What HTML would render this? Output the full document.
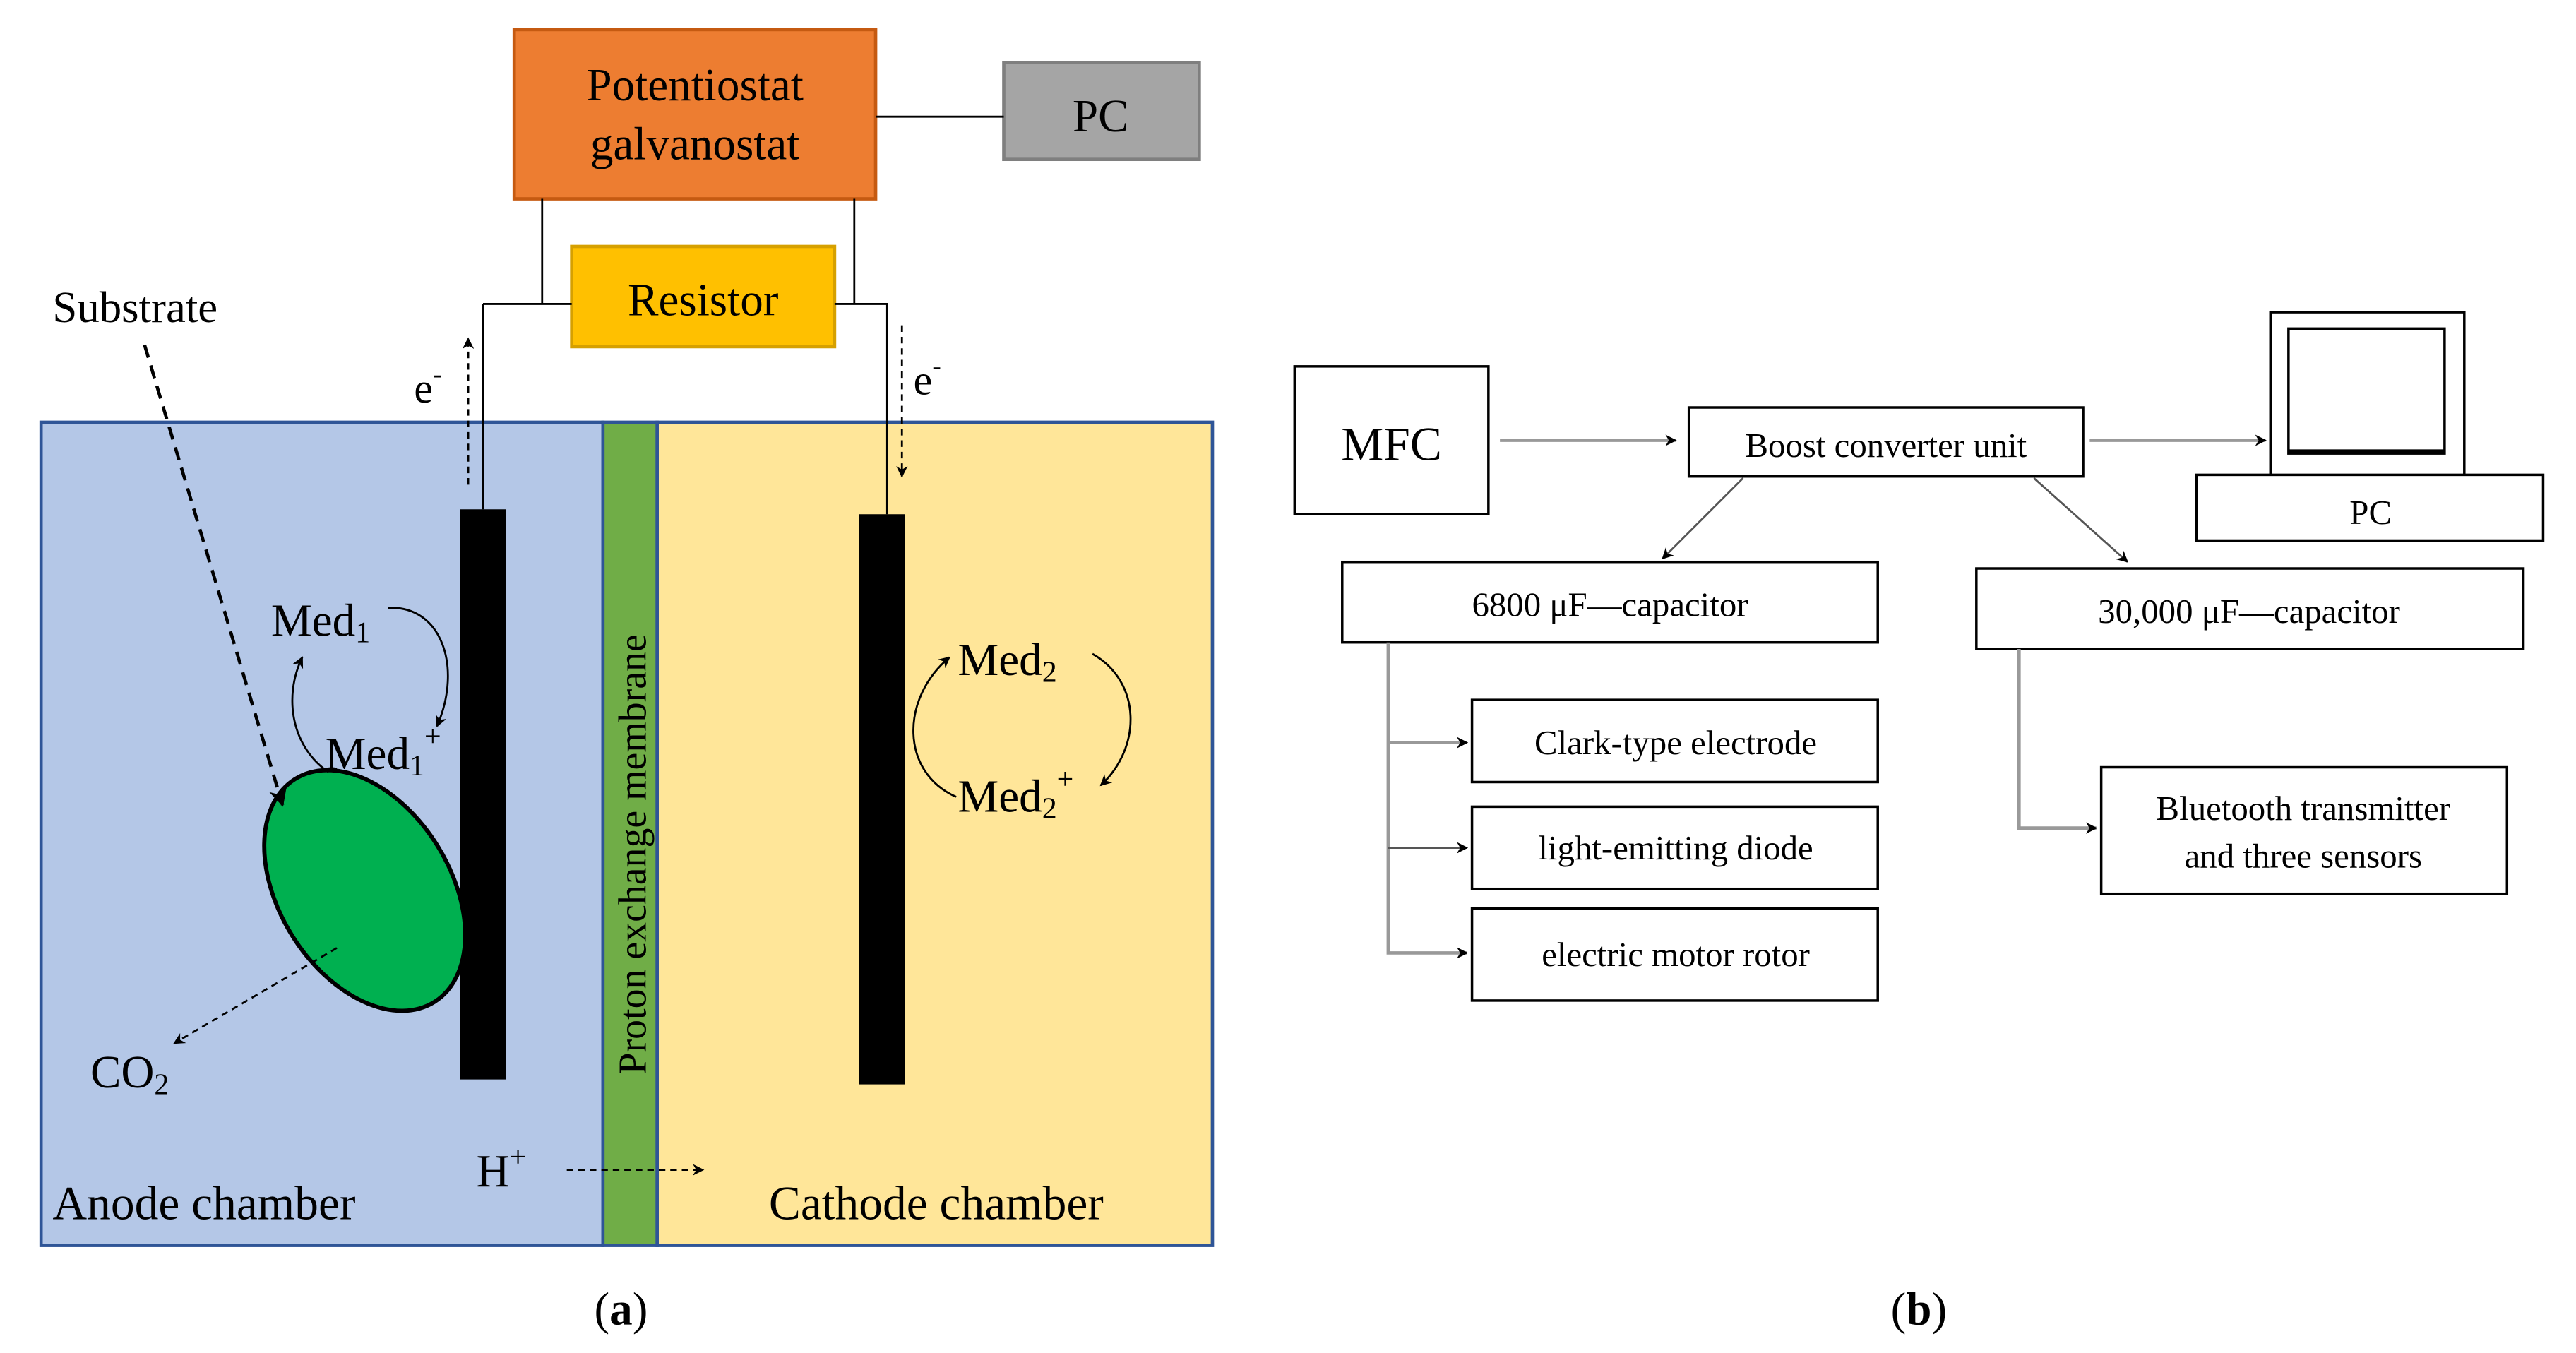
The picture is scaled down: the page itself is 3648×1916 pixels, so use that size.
<!DOCTYPE html>
<html><head><meta charset="utf-8"><style>html,body{margin:0;padding:0;background:#fff}svg{display:block}</style></head><body>
<svg width="3648" height="1916" viewBox="0 0 1568 823.5" preserveAspectRatio="none" xmlns="http://www.w3.org/2000/svg" font-family="'Liberation Serif', serif">
<defs>
<marker id="ah" viewBox="0 0 10 10" refX="9" refY="5" markerWidth="7" markerHeight="7" orient="auto-start-reverse" markerUnits="userSpaceOnUse"><path d="M0,0 L10,5 L0,10 L3,5 z" fill="#000"/></marker>
<marker id="ahb" viewBox="0 0 10 10" refX="9" refY="5" markerWidth="11" markerHeight="11" orient="auto" markerUnits="userSpaceOnUse"><path d="M0,0 L10,5 L0,10 L3,5 z" fill="#000"/></marker>
</defs>
<rect width="1568" height="823.5" fill="#fff"/>
<rect x="25" y="257" width="342" height="501" fill="#B4C7E7" stroke="#2F5597" stroke-width="2"/>
<rect x="400" y="257" width="338" height="501" fill="#FFE699" stroke="#2F5597" stroke-width="2"/>
<rect x="367" y="257" width="33" height="501" fill="#70AD47" stroke="#2F5597" stroke-width="2"/>
<text transform="translate(393,520) rotate(-90)" font-size="24" text-anchor="middle" fill="#000">Proton exchange membrane</text>
<rect x="313" y="18" width="220" height="103" fill="#ED7D31" stroke="#C55A11" stroke-width="2"/>
<text x="423" y="61" font-size="28" text-anchor="middle">Potentiostat</text>
<text x="423" y="97" font-size="28" text-anchor="middle">galvanostat</text>
<rect x="611" y="38" width="119" height="59" fill="#A5A5A5" stroke="#7F7F7F" stroke-width="2"/>
<text x="670" y="80" font-size="28" text-anchor="middle">PC</text>
<line x1="533" y1="71" x2="611" y2="71" stroke="#000" stroke-width="1.2"/>
<rect x="348" y="150" width="160" height="61" fill="#FFC000" stroke="#D6A000" stroke-width="2"/>
<text x="428" y="192" font-size="28" text-anchor="middle">Resistor</text>
<path d="M330,121 V185 M294,185 H348 M294,185 V310 M520,121 V185 M508,185 H540 V313" fill="none" stroke="#000" stroke-width="1.2"/>
<line x1="285" y1="295" x2="285" y2="206" stroke="#000" stroke-width="1.2" stroke-dasharray="4,3" marker-end="url(#ah)"/>
<text x="252" y="245" font-size="26">e<tspan font-size="16" dy="-12">-</tspan></text>
<line x1="549" y1="198" x2="549" y2="290" stroke="#000" stroke-width="1.2" stroke-dasharray="4,3" marker-end="url(#ah)"/>
<text x="556" y="240" font-size="26">e<tspan font-size="16" dy="-12">-</tspan></text>
<rect x="280" y="310" width="28" height="347" fill="#000"/>
<rect x="523" y="313" width="28" height="347" fill="#000"/>
<ellipse cx="222" cy="542" rx="52" ry="80" transform="rotate(-32 222 542)" fill="#00B050" stroke="#000" stroke-width="2.5"/>
<text x="32" y="196" font-size="27">Substrate</text>
<line x1="88" y1="210" x2="172" y2="490" stroke="#000" stroke-width="2" stroke-dasharray="8,5" marker-end="url(#ahb)"/>
<line x1="205" y1="577" x2="106" y2="635" stroke="#000" stroke-width="1.2" stroke-dasharray="4,3" marker-end="url(#ah)"/>
<text x="55" y="662" font-size="28">CO<tspan font-size="18" dy="4">2</tspan></text>
<text x="165" y="387" font-size="28">Med<tspan font-size="18" dy="4">1</tspan></text>
<text x="198" y="468" font-size="28">Med<tspan font-size="18" dy="4">1</tspan><tspan font-size="18" dy="-18">+</tspan></text>
<path d="M236,370 C268,368 282,405 266,442" fill="none" stroke="#000" stroke-width="1.2" marker-end="url(#ah)"/>
<path d="M200,470 C178,455 172,425 184,400" fill="none" stroke="#000" stroke-width="1.2" marker-end="url(#ah)"/>
<text x="583" y="411" font-size="28">Med<tspan font-size="18" dy="4">2</tspan></text>
<text x="583" y="494" font-size="28">Med<tspan font-size="18" dy="4">2</tspan><tspan font-size="18" dy="-18">+</tspan></text>
<path d="M665,398 C695,415 695,455 670,478" fill="none" stroke="#000" stroke-width="1.2" marker-end="url(#ah)"/>
<path d="M582,485 C548,470 548,425 578,400" fill="none" stroke="#000" stroke-width="1.2" marker-end="url(#ah)"/>
<text x="290" y="722" font-size="28">H<tspan font-size="18" dy="-12">+</tspan></text>
<line x1="345" y1="712" x2="428" y2="712" stroke="#000" stroke-width="1.2" stroke-dasharray="4,3" marker-end="url(#ah)"/>
<text x="32" y="742" font-size="29">Anode chamber</text>
<text x="468" y="742" font-size="29">Cathode chamber</text>
<text x="378" y="806" font-size="28" text-anchor="middle">(<tspan font-weight="bold">a</tspan>)</text>
<g stroke="#000" stroke-width="1.5" fill="#fff">
<rect x="788" y="223" width="118" height="90"/>
<rect x="1028" y="248" width="240" height="42"/>
<rect x="1382" y="190" width="118" height="100"/>
<rect x="1337" y="289" width="211" height="40"/>
<rect x="817" y="342" width="326" height="49"/>
<rect x="1203" y="346" width="333" height="49"/>
<rect x="896" y="426" width="247" height="50"/>
<rect x="896" y="491" width="247" height="50"/>
<rect x="896" y="553" width="247" height="56"/>
<rect x="1279" y="467" width="247" height="77"/>
</g>
<rect x="1393" y="200" width="95" height="76" fill="#fff" stroke="#000" stroke-width="1.5"/>
<line x1="1393" y1="275" x2="1488" y2="275" stroke="#000" stroke-width="3"/>
<g font-size="21" text-anchor="middle">
<text x="847" y="280" font-size="29">MFC</text>
<text x="1148" y="278">Boost converter unit</text>
<text x="1443" y="319">PC</text>
<text x="980" y="375">6800 μF—capacitor</text>
<text x="1369" y="379">30,000 μF—capacitor</text>
<text x="1020" y="459">Clark-type electrode</text>
<text x="1020" y="523">light-emitting diode</text>
<text x="1020" y="588">electric motor rotor</text>
<text x="1402" y="499">Bluetooth transmitter</text>
<text x="1402" y="528">and three sensors</text>
</g>
<g stroke="#999" stroke-width="2" fill="none">
<line x1="913" y1="268" x2="1020" y2="268" marker-end="url(#ah)"/>
<line x1="1272" y1="268" x2="1379" y2="268" marker-end="url(#ah)"/>
<path d="M845,391 V580 H893" marker-end="url(#ah)"/>
<line x1="845" y1="452" x2="893" y2="452" marker-end="url(#ah)"/>
<line x1="845" y1="516" x2="893" y2="516" stroke="#555" stroke-width="1.2" marker-end="url(#ah)"/>
<path d="M1229,395 V504 H1276" marker-end="url(#ah)"/>
</g>
<line x1="1061" y1="291" x2="1012" y2="340" stroke="#555" stroke-width="1.2" marker-end="url(#ah)"/>
<line x1="1238" y1="291" x2="1295" y2="342" stroke="#555" stroke-width="1.2" marker-end="url(#ah)"/>
<text x="1168" y="806" font-size="28" text-anchor="middle">(<tspan font-weight="bold">b</tspan>)</text>
</svg>
</body></html>
